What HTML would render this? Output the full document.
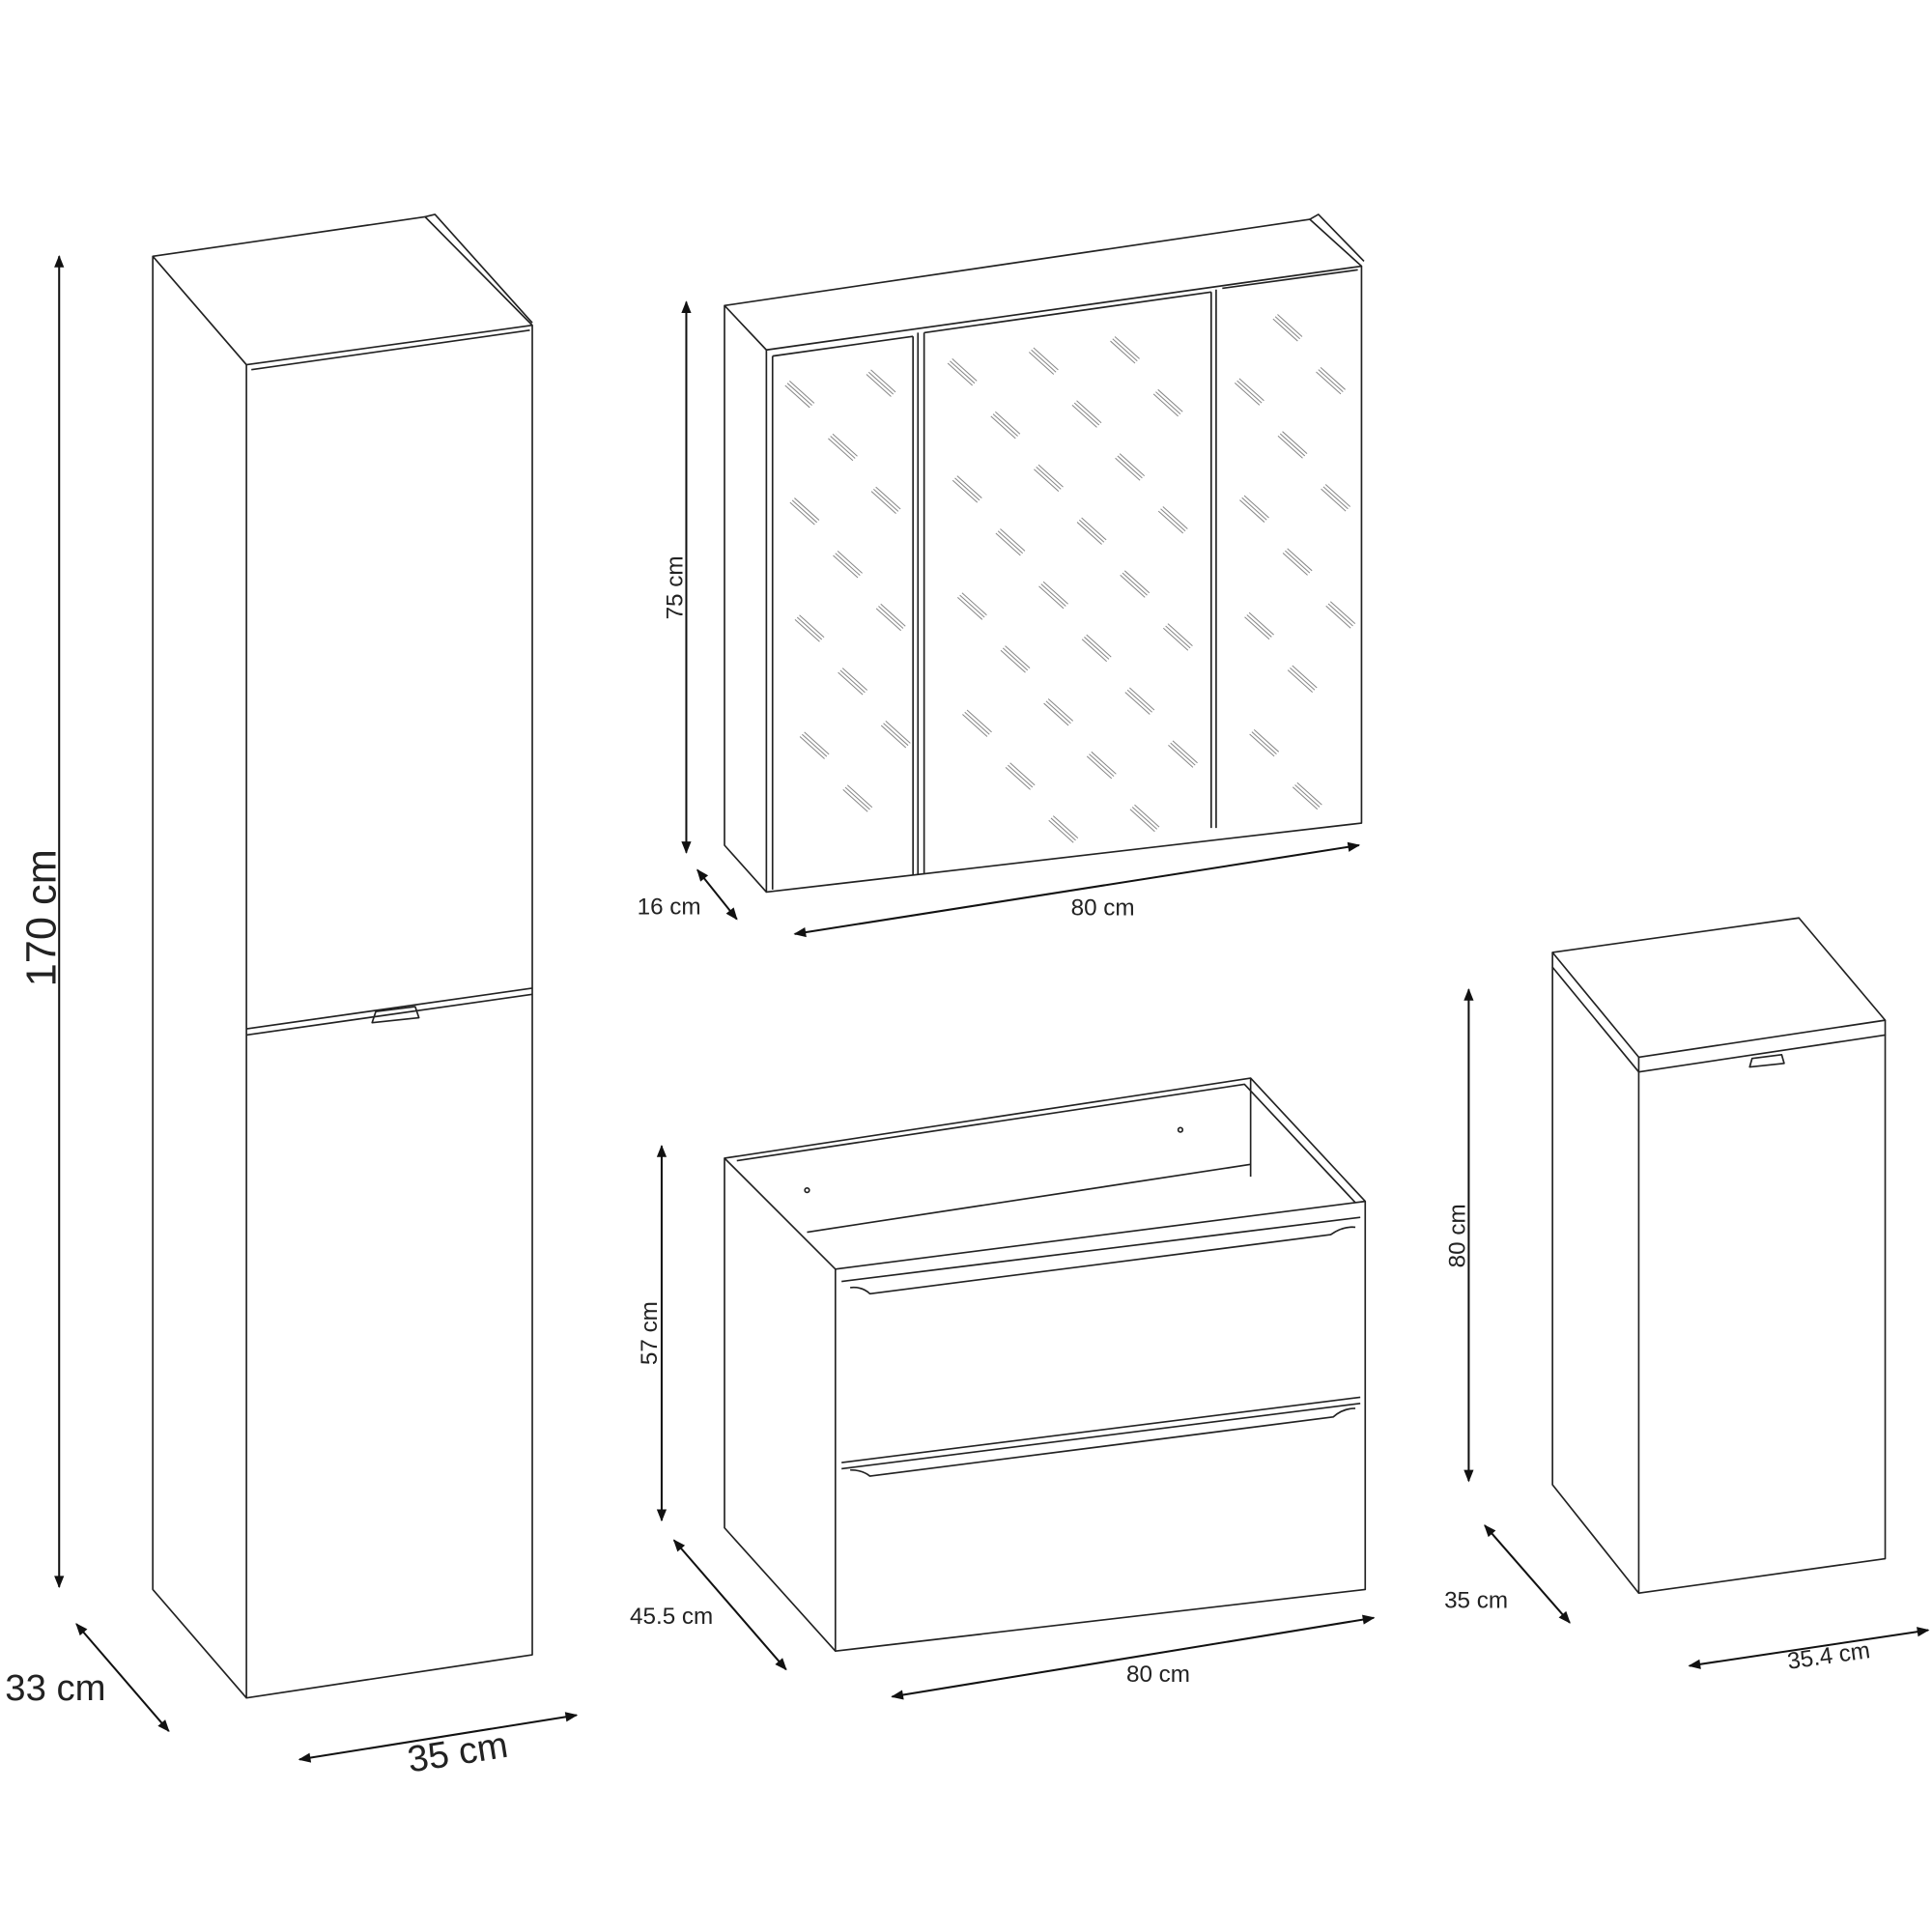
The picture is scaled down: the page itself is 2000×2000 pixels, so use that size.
<!DOCTYPE html>
<html><head><meta charset="utf-8"><style>
html,body{margin:0;padding:0;background:#fff}
svg{display:block}
text{font-family:"Liberation Sans",sans-serif;fill:#222}
</style></head><body>
<svg id="s" width="2000" height="2000" viewBox="0 0 1568 1568" xmlns="http://www.w3.org/2000/svg">
<defs>
<marker id="a" viewBox="0 0 10 10" refX="9" refY="5" markerWidth="12" markerHeight="10" orient="auto-start-reverse" markerUnits="userSpaceOnUse"><path d="M0,1 L10,5 L0,9 z" fill="#111"/></marker>
</defs>
<g fill="none" stroke="#222" stroke-width="1.3" stroke-linejoin="round">
<!-- tall cabinet -->
<path d="M124,208 L345,176 L432,264 L432,1343 L200,1378 L124,1290 Z"/>
<path d="M124,208 L200,296 L432,264"/>
<path d="M345,176 L353,174 L432,262"/>
<path d="M200,296 L200,1378"/>
<path d="M204,300 L430,268"/>
<path d="M200,835 L432,802 M200,840 L432,807"/>
<path d="M302,830 L305,821 L337,817 L340,826 Z"/>
<!-- mirror cabinet -->
<path d="M588,248 L1063,178 L1105,216 L1105,668 L622,724 L588,686 Z"/>
<path d="M588,248 L622,284 L1105,216"/>
<path d="M1063,178 L1070,174 L1107,212"/>
<path d="M622,284 L622,724 M627,289 L627,722"/>
<path d="M627,289 L741,273 M741,273 L741,710 M745,270 L745,710 M750,270 L750,709 M750,270 L983,237 M983,237 L983,672 M987,235 L987,672 M992,234 L1102,219"/>
<!-- vanity -->
<path d="M588,940 L1015,875 L1108,975 L1108,1290 L678,1340 L588,1240 Z"/>
<path d="M588,940 L678,1030 L1108,975"/>
<path d="M598,942 L1010,880 L1100,976"/>
<path d="M678,1030 L678,1340"/>
<path d="M655,1000 L1015,945"/>
<path d="M1015,875 L1015,955"/>
<path d="M683,1040 L1104,988 M683,1187 L1104,1134 M683,1192 L1104,1139"/>
<path d="M690,1045 Q700,1044 706,1050 L1080,1002 Q1090,995 1100,996"/>
<path d="M690,1193 Q700,1193 706,1198 L1082,1150 Q1090,1143 1100,1143"/>
<circle cx="958" cy="917" r="1.8"/><circle cx="655" cy="966" r="1.8"/>
<!-- small cabinet -->
<path d="M1260,773 L1460,745 L1530,828 L1330,858 Z"/>
<path d="M1260,773 L1260,785 L1330,870 L1530,840 L1530,828"/>
<path d="M1330,858 L1330,870"/>
<path d="M1260,785 L1260,1205 L1330,1293 L1530,1265 L1530,840"/>
<path d="M1330,870 L1330,1293"/>
<path d="M1420,866 L1422,859 L1446,856 L1448,863 Z"/>
</g>
<g id="marks" stroke="#888" stroke-width="0.8" fill="none"></g>
<g stroke="#111" stroke-width="1.6" fill="none" marker-start="url(#a)" marker-end="url(#a)">
<line x1="48" y1="208" x2="48" y2="1288"/>
<line x1="62" y1="1318" x2="137" y2="1405"/>
<line x1="243" y1="1428" x2="468" y2="1392"/>
<line x1="557" y1="245" x2="557" y2="692"/>
<line x1="566" y1="706" x2="598" y2="746"/>
<line x1="645" y1="758" x2="1103" y2="686"/>
<line x1="537" y1="930" x2="537" y2="1234"/>
<line x1="547" y1="1250" x2="638" y2="1355"/>
<line x1="724" y1="1377" x2="1115" y2="1313"/>
<line x1="1192" y1="803" x2="1192" y2="1202"/>
<line x1="1205" y1="1238" x2="1274" y2="1317"/>
<line x1="1371" y1="1352" x2="1565" y2="1323"/>
</g>
<text x="45" y="745" font-size="34" text-anchor="middle" transform="rotate(-90 45 745)">170 cm</text>
<text x="45" y="1380" font-size="30" text-anchor="middle">33 cm</text>
<text x="373" y="1432" font-size="30" text-anchor="middle" transform="rotate(-9 373 1432)">35 cm</text>
<text x="554" y="477" font-size="19" text-anchor="middle" transform="rotate(-90 554 477)">75 cm</text>
<text x="543" y="742" font-size="19" text-anchor="middle">16 cm</text>
<text x="895" y="743" font-size="19" text-anchor="middle">80 cm</text>
<text x="533" y="1082" font-size="19" text-anchor="middle" transform="rotate(-90 533 1082)">57 cm</text>
<text x="545" y="1318" font-size="19" text-anchor="middle">45.5 cm</text>
<text x="940" y="1365" font-size="19" text-anchor="middle">80 cm</text>
<text x="1189" y="1003" font-size="19" text-anchor="middle" transform="rotate(-90 1189 1003)">80 cm</text>
<text x="1198" y="1305" font-size="19" text-anchor="middle">35 cm</text>
<text x="1485" y="1350" font-size="19" text-anchor="middle" transform="rotate(-8 1485 1350)">35.4 cm</text>
</svg>
<script>
(function(){
var g=document.getElementById('marks'),h='';
var doors=[[627,741],[750,983],[992,1102]];
function top(x){return 284+(x-622)*(-68/483);}
function bot(x){return 724+(x-622)*(-56/483);}
for(var i=-30;i<30;i++)for(var j=-30;j<30;j++){
 var x=649+i*35+j*66, y=320+i*43-j*9;
 var ok=false;
 for(var d=0;d<3;d++){if(x>doors[d][0]+12&&x<doors[d][1]-12)ok=true;}
 if(!ok)continue;
 if(y<top(x)+22||y>bot(x)-22)continue;
 for(var k=-1;k<=1;k++){
  var ox=k*1.8,oy=-k*1.8;
  h+='<line x1="'+(x-10+ox)+'" y1="'+(y-9+oy)+'" x2="'+(x+10+ox)+'" y2="'+(y+9+oy)+'"/>';
 }
}
g.innerHTML=h;
})();
</script>
</body></html>
